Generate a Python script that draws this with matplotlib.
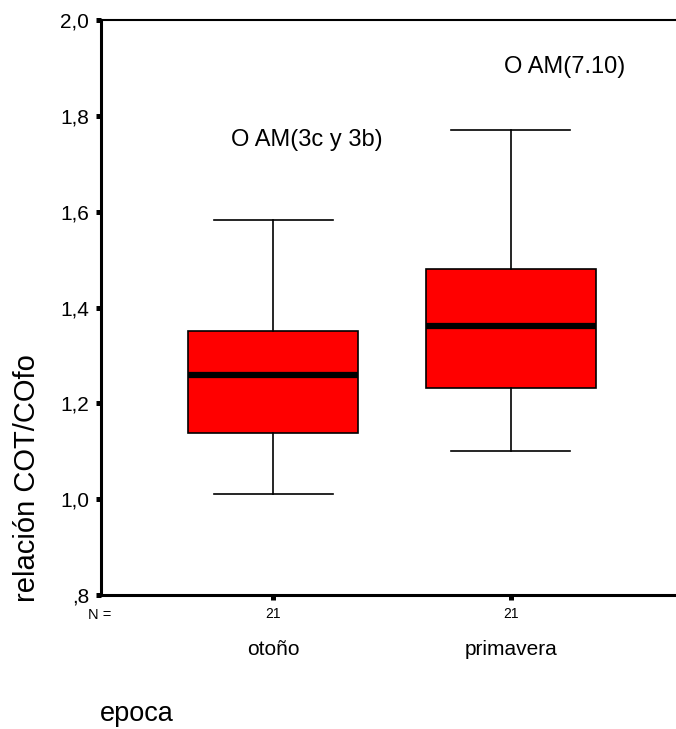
import matplotlib
matplotlib.use("Agg")
import matplotlib.pyplot as plt
from matplotlib.transforms import blended_transform_factory

categories = ["otoño", "primavera"]
n_values = [21, 21]
whislo = [1.01, 1.10]
q1 = [1.138, 1.232]
med = [1.259, 1.361]
q3 = [1.351, 1.480]
whishi = [1.583, 1.770]
annotations = ["O AM(3c y 3b)", "O AM(7.10)"]
annot_x = [1.141, 2.227]
annot_y = [1.737, 1.889]
yticks = [0.8, 1.0, 1.2, 1.4, 1.6, 1.8, 2.0]
yticklabels = [",8", "1,0", "1,2", "1,4", "1,6", "1,8", "2,0"]

plt.rcParams['font.family'] = ['Liberation Sans', 'DejaVu Sans']

W, H = 676, 729
fig = plt.figure(figsize=(W/100, H/100), dpi=100)
ax = fig.add_axes([101/W, 1-595/H, (683-101)/W, (595-20)/H])

stats = []
for i in range(len(categories)):
    stats.append(dict(med=med[i], q1=q1[i], q3=q3[i], whislo=whislo[i], whishi=whishi[i], fliers=[]))
pos = [1, 2]
ax.bxp(stats, positions=pos, widths=0.718, patch_artist=True, showfliers=False,
       boxprops=dict(facecolor="#ff0000", edgecolor="black", linewidth=1.2),
       medianprops=dict(color="black", linewidth=4.5),
       whiskerprops=dict(color="black", linewidth=1.2),
       capprops=dict(color="black", linewidth=1.2),
       capwidths=0.5)

ax.set_xlim(0.277, 2.723)
ax.set_ylim(0.8, 2.0)
ax.set_yticks(yticks)
ax.set_yticklabels(yticklabels, fontsize=15)
ax.set_xticks(pos)
ax.set_xticklabels([str(n) for n in n_values], fontsize=10)
ax.tick_params(axis='y', direction='out', length=3.6, width=3.6, pad=5)
ax.tick_params(axis='x', direction='out', length=3.6, width=3.6, pad=5)
for s in ["left", "bottom"]:
    ax.spines[s].set_linewidth(2.2)
ax.spines["top"].set_linewidth(1.5)
ax.spines["right"].set_visible(False)

fig.text(88/W, 1-615/H, "N =", fontsize=10.5, ha="left", va="center")
trans = blended_transform_factory(ax.transData, fig.transFigure)
for p, c in zip(pos, categories):
    fig.text(p, 1-655/H, c, transform=trans, fontsize=15, ha="center", va="baseline")
for p, t, y in zip(annot_x, annotations, annot_y):
    ax.text(p, y, t, fontsize=17, ha="center", va="baseline")

fig.text(100/W, 1-721/H, "epoca", fontsize=19.5, ha="left", va="baseline")
fig.text(27/W, 1-478/H, "relación COT/COfo", fontsize=21, rotation=90, ha="center", va="center")

fig.savefig("out.png", dpi=100)
